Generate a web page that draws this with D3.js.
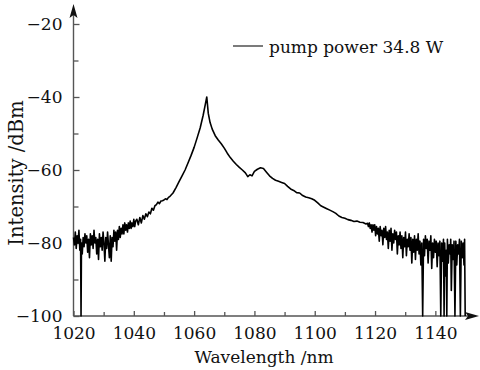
<!DOCTYPE html>
<html>
<head>
<meta charset="utf-8">
<title>Spectrum at 34.8 W pump</title>
<script src="https://d3js.org/d3.v7.min.js"></script>
<style>
  body { margin: 0; background: #fff; }
  text { font-family: "DejaVu Serif", serif; fill: #111; }
</style>
</head>
<body>
<div id="chart"></div>
<script>
// values: [wavelength nm, intensity dBm]
const noiseLeft = [
  [1020.0,-78.5],[1020.3,-80.5],[1020.6,-77],[1020.9,-81.5],[1021.2,-78],[1021.5,-80],
  [1021.8,-76.5],[1022.1,-82],[1022.35,-79],[1022.5,-100],[1022.65,-80],[1022.9,-83],
  [1023.2,-78.5],[1023.5,-81],[1023.8,-77.5],[1024.1,-80],[1024.4,-78],[1024.7,-82.5],
  [1025.0,-79],[1025.3,-84],[1025.6,-77.5],[1025.9,-80.5],[1026.2,-78],[1026.5,-81.5],
  [1026.8,-76.5],[1027.1,-80],[1027.4,-78.5],[1027.7,-83],[1028.0,-79],[1028.3,-84.5],
  [1028.6,-77.5],[1028.9,-81],[1029.2,-78.5],[1029.5,-82],[1029.8,-77],[1030.1,-80],
  [1030.4,-85],[1030.7,-78.5],[1031.0,-81.5],[1031.3,-77],[1031.6,-80.5],[1031.9,-84],
  [1032.2,-78],[1032.5,-85],[1032.8,-78.5],[1033.1,-81],[1033.4,-76.5],[1033.7,-79.5],
  [1034.0,-77],[1034.3,-82],[1034.6,-76.5],[1034.9,-79],[1035.2,-75.5],[1035.5,-78.5],
  [1035.8,-76],[1036.1,-77.5],[1036.4,-75],[1036.7,-77.5],[1037.0,-74.5],[1037.3,-76.5],
  [1037.6,-75],[1037.9,-77],[1038.2,-74.5],[1038.5,-76],[1038.8,-74],[1039.1,-76],
  [1039.4,-74.5],[1039.7,-75.5],[1040.0,-73.5],[1040.3,-75.5],[1040.6,-74],[1041.0,-73.5],
  [1041.5,-75],[1042.0,-73],[1042.5,-74.5],[1043.0,-72.5],[1043.5,-73.5],[1044.0,-72],
  [1044.5,-72.8],[1045.0,-71.5],[1045.5,-72],[1046.0,-70.5],[1046.5,-71],[1047.0,-69.8],
  [1047.5,-69.5],[1048.0,-68.8],[1048.5,-69.2],[1049.0,-68.5]
];

const mainBody = [
  [1049.5,-68.4],[1050,-68.2],[1050.5,-67.9],[1051,-68.1],[1051.5,-67.5],[1052,-67.2],
  [1053,-66.3],[1054,-64.8],[1055,-63.2],[1056,-61.6],[1057,-60.0],[1058,-58.0],
  [1059,-56.0],[1060,-53.8],[1061,-51.2],[1062,-48.5],[1063,-45.0],[1063.6,-42.5],
  [1064.2,-40.0],[1064.7,-44.5],[1065.3,-47.0],[1066,-48.8],[1067,-50.6],[1068,-51.8],
  [1069,-52.8],[1070,-54.0],[1071,-55.4],[1072,-56.6],[1073,-57.6],[1074,-58.5],
  [1075,-59.3],[1076,-60.0],[1077,-60.8],[1077.8,-61.8],[1078.5,-61.3],[1079.2,-61.6],
  [1080,-60.4],[1081,-59.8],[1082,-59.4],[1083,-59.6],[1084,-60.6],[1085,-61.6],
  [1086,-62.3],[1087,-62.8],[1088,-63.1],[1089,-63.4],[1090,-63.7],[1091,-64.5],
  [1092,-65.2],[1093,-65.6],[1094,-66.2],[1095,-66.3],[1096,-67.0],[1097,-67.4],
  [1098,-67.6],[1099,-67.9],[1100,-68.3],[1101,-69.0],[1102,-69.8],[1103,-70.2],
  [1104,-70.6],[1105,-71.0],[1106,-71.4],[1107,-71.9],[1108,-72.6],[1109,-73.0],
  [1110,-73.2],[1111,-73.6],[1112,-73.8],[1113,-74.1],[1114,-74.0],[1115,-74.3],
  [1116,-74.4],[1117,-74.8]
];

const noiseRight = [
  [1117.5,-74.6],[1117.8,-75.5],[1118.1,-74.5],[1118.4,-76],[1118.7,-75],[1119.0,-77],
  [1119.3,-75],[1119.6,-76.5],[1119.9,-75],[1120.2,-78],[1120.5,-75.5],[1120.8,-77.5],
  [1121.1,-76],[1121.4,-79.5],[1121.7,-75.5],[1122.0,-78],[1122.3,-76.5],[1122.6,-80.5],
  [1122.9,-76],[1123.2,-78.5],[1123.5,-75.5],[1123.8,-79],[1124.1,-77],[1124.4,-81.5],
  [1124.7,-76.5],[1125.0,-79.5],[1125.3,-76],[1125.6,-82],[1125.9,-77.5],[1126.2,-80],
  [1126.5,-76.5],[1126.8,-79],[1127.1,-77],[1127.4,-83],[1127.7,-78],[1128.0,-80.5],
  [1128.3,-77],[1128.6,-81.5],[1128.9,-78],[1129.2,-84],[1129.5,-78.5],[1129.8,-81],
  [1130.1,-77],[1130.4,-83.5],[1130.7,-79],[1131.0,-81],[1131.3,-77.5],[1131.6,-82],
  [1131.9,-78.5],[1132.2,-85.5],[1132.5,-79],[1132.8,-82.5],[1133.1,-78],[1133.4,-84.5],
  [1133.7,-79],[1134.0,-82],[1134.3,-77.5],[1134.6,-83],[1134.9,-79.5],[1135.2,-86],
  [1135.5,-80],[1135.8,-100],[1136.1,-79],[1136.4,-83.5],[1136.7,-78],[1137.0,-81.5],
  [1137.3,-79],[1137.6,-85.5],[1137.9,-79.5],[1138.2,-82],[1138.5,-78],[1138.8,-87],
  [1139.1,-80],[1139.4,-84],[1139.7,-79],[1140.0,-82.5],[1140.3,-79.5],[1140.6,-86.5],
  [1140.9,-80],[1141.2,-83.5],[1141.5,-79.5],[1141.8,-100],[1142.1,-80],[1142.4,-85],
  [1142.7,-79],[1142.9,-100],[1143.1,-80],[1143.4,-89],[1143.6,-82],[1143.8,-100],
  [1144.0,-79],[1144.3,-85.5],[1144.6,-80.5],[1144.9,-83],[1145.1,-79],[1145.3,-93],
  [1145.6,-80.5],[1145.9,-84.5],[1146.2,-79.5],[1146.5,-100],[1146.8,-79.5],[1147.1,-86],
  [1147.4,-80.5],[1147.7,-83],[1148.0,-79],[1148.3,-100],[1148.6,-79.5],[1148.9,-84],
  [1149.2,-80],[1149.5,-86],[1149.7,-79],[1149.9,-100]
];

const xMajor = [1020, 1040, 1060, 1080, 1100, 1120, 1140];
const xMinor = [1030, 1050, 1070, 1090, 1110, 1130];
const yMajor = [-100, -80, -60, -40, -20];
const yMinor = [-90, -70, -50, -30];
const legendLabel = "pump power 34.8 W";
const xTitle = "Wavelength /nm";
const yTitle = "Intensity /dBm";

const width = 480;
const height = 370;
const axisColor = "#555";

const svg = d3.select("#chart")
    .append("svg")
    .attr("width", width)
    .attr("height", height);

const xScale = d3.scaleLinear().domain([1020, 1150]).range([73.5, 465.5]);
const yScale = d3.scaleLinear().domain([-100, -20]).range([316, 24]);

// x axis, ticks point inward
svg.append("g")
    .attr("transform", "translate(0," + yScale(-100) + ")")
    .call(d3.axisBottom(xScale).tickValues(xMajor).tickSize(-5).tickPadding(11).tickFormat(d3.format("d")));
svg.append("g")
    .attr("transform", "translate(0," + yScale(-100) + ")")
    .call(d3.axisBottom(xScale).tickValues(xMinor).tickSize(-4).tickFormat(""));

svg.append("g")
    .attr("transform", "translate(" + xScale(1020) + ",0)")
    .call(d3.axisLeft(yScale).tickValues(yMajor).tickSize(-6).tickPadding(11));
svg.append("g")
    .attr("transform", "translate(" + xScale(1020) + ",0)")
    .call(d3.axisLeft(yScale).tickValues(yMinor).tickSize(-5).tickFormat(""));

svg.selectAll(".domain").remove();
svg.selectAll(".tick line").attr("stroke", axisColor).attr("stroke-width", 1.3);
svg.selectAll(".tick text").attr("font-size", 17).attr("fill", "#111").attr("font-family", "DejaVu Serif");

// axis lines with arrow heads
const x0 = xScale(1020), y0 = yScale(-100);
svg.append("line")
    .attr("x1", x0).attr("y1", y0).attr("x2", 470).attr("y2", y0)
    .attr("stroke", axisColor).attr("stroke-width", 1.4);
svg.append("line")
    .attr("x1", x0).attr("y1", y0).attr("x2", x0).attr("y2", 12)
    .attr("stroke", axisColor).attr("stroke-width", 1.4);
svg.append("path")
    .attr("d", `M479,${y0} L465,${y0 - 4} L468,${y0} L465,${y0 + 4} Z`)
    .attr("fill", "#111");
svg.append("path")
    .attr("d", `M${x0},4 L${x0 + 4},18 L${x0},15 L${x0 - 4},18 Z`)
    .attr("fill", "#111");

// spectrum trace
const spectrum = noiseLeft.concat(mainBody, noiseRight);
svg.append("path")
    .datum(spectrum)
    .attr("fill", "none")
    .attr("stroke", "#000")
    .attr("stroke-width", 1.6)
    .attr("stroke-linejoin", "round")
    .attr("d", d3.line()
        .x(d => xScale(d[0]))
        .y(d => yScale(d[1])));

// legend
svg.append("line")
    .attr("x1", 233).attr("x2", 263).attr("y1", 46).attr("y2", 46)
    .attr("stroke", "#333").attr("stroke-width", 1.3);
svg.append("text")
    .attr("x", 269).attr("y", 53)
    .attr("font-size", 17)
    .text(legendLabel);

// axis titles
svg.append("text")
    .attr("x", 264).attr("y", 363)
    .attr("text-anchor", "middle")
    .attr("font-size", 17)
    .text(xTitle);
svg.append("text")
    .attr("transform", "rotate(-90)")
    .attr("x", -173).attr("y", 23)
    .attr("text-anchor", "middle")
    .attr("font-size", 19.5)
    .text(yTitle);
</script>
</body>
</html>
